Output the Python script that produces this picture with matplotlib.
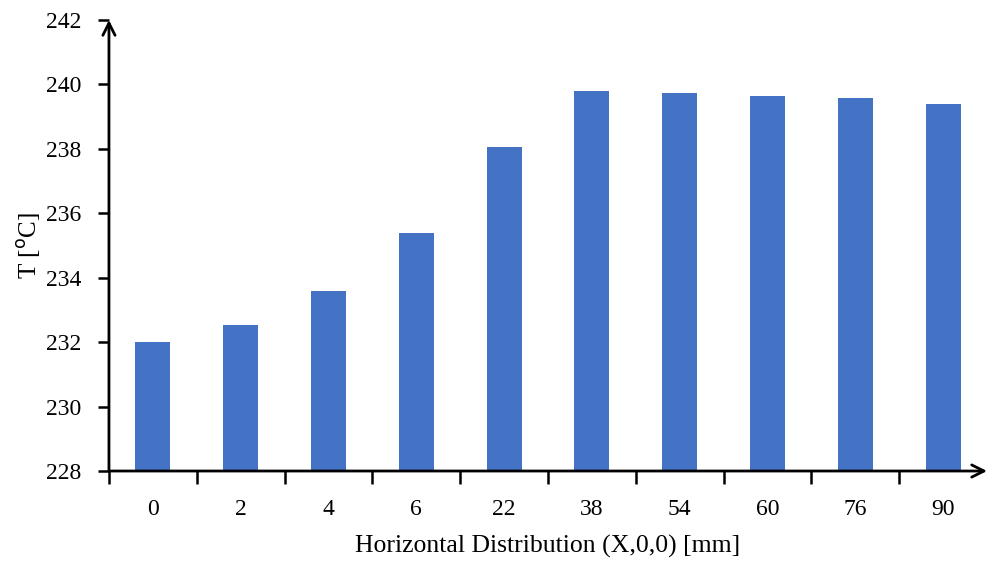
import matplotlib
matplotlib.use("Agg")
import matplotlib.pyplot as plt
import numpy as np

categories = ["0", "2", "4", "6", "22", "38", "54", "60", "76", "90"]
temperatures = [232.02, 232.54, 233.60, 235.39, 238.06, 239.80, 239.73, 239.65, 239.58, 239.38]
yticks = [228, 230, 232, 234, 236, 238, 240, 242]

plt.rcParams['font.family'] = ['Liberation Serif', 'DejaVu Serif']

fig = plt.figure(figsize=(9.96, 5.62), dpi=100)
ax = fig.add_axes([0.1094, 0.1619, 0.8816, 0.8025])

x = np.arange(len(categories))
ax.bar(x, np.array(temperatures) - 228, bottom=228, width=0.4, color="#4472C4", zorder=2)

ax.set_xlim(-0.5, len(categories) - 0.5)
ax.set_ylim(228, 242)
ax.set_yticks(yticks)
ax.set_yticklabels([str(v) for v in yticks], fontsize=17)

ax.set_xticks(x)
ax.set_xticklabels(categories, fontsize=17)
ax.tick_params(axis='x', which='major', length=0, pad=20)
ax.set_xticks(np.arange(-0.5, len(categories) - 0.5, 1.0), minor=True)
ax.tick_params(axis='x', which='minor', length=9, width=1.8, direction='out')
ax.tick_params(axis='y', length=8, width=1.8, direction='out', pad=12)

for s in ['top', 'right', 'left', 'bottom']:
    ax.spines[s].set_visible(False)

arrow_kw = dict(arrowstyle='->', lw=2, color='black', mutation_scale=22, shrinkA=0, shrinkB=0)
ax.annotate('', xy=(0, 1), xytext=(0, 0), xycoords='axes fraction', textcoords='axes fraction',
            arrowprops=arrow_kw, annotation_clip=False)
ax.annotate('', xy=(1, 0), xytext=(0, 0), xycoords='axes fraction', textcoords='axes fraction',
            arrowprops=arrow_kw, annotation_clip=False)

ax.set_xlabel("Horizontal Distribution (X,0,0) [mm]", fontsize=18.5, labelpad=11)
ax.set_ylabel("T [$^{\\mathrm{o}}$C]", fontsize=18, labelpad=2)

fig.savefig("out.png", dpi=100)
